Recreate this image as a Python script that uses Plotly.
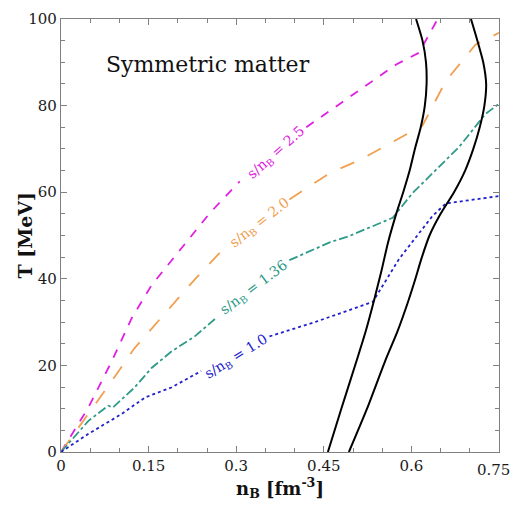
import plotly.graph_objects as go

# ---- data ----
# phase-boundary curves (solid black)
T_left = [0, 10, 21, 28, 35, 42, 48.4, 55, 60, 65, 70, 75, 80, 85, 90, 95, 100]
nB_left = [0.457, 0.480, 0.506, 0.522, 0.536, 0.549, 0.560, 0.574, 0.586, 0.597, 0.606, 0.616, 0.623, 0.626, 0.625, 0.619, 0.608]
T_right = [0, 10, 21, 27.8, 35, 39.2, 45, 50, 55, 60, 65, 70, 75, 80, 85, 90, 95, 100]
nB_right = [0.493, 0.524, 0.555, 0.576, 0.595, 0.605, 0.618, 0.631, 0.650, 0.673, 0.692, 0.706, 0.717, 0.725, 0.728, 0.723, 0.713, 0.702]

# isentropes (None marks the gap where the label sits on the curve)
nB_s25 = [0, 0.047, 0.087, 0.121, 0.155, 0.209, 0.255, 0.306, None, 0.420, 0.494, 0.574, 0.613, 0.645]
T_s25 = [0, 10.3, 21, 30.9, 38.5, 47.6, 55.2, 62.5, None, 75, 81.9, 89.5, 92.2, 100]

nB_s20 = [0, 0.047, 0.087, 0.126, 0.161, 0.230, 0.283, None, 0.391, 0.460, 0.511, 0.619, 0.659, 0.710, 0.750]
T_s20 = [0, 8.8, 16.4, 24, 29.3, 40, 47.6, None, 58.3, 64.4, 67.4, 75.4, 85.7, 94.1, 96.8]

nB_s136 = [0, 0.047, 0.081, 0.089, 0.126, 0.155, 0.189, 0.229, 0.266, None, 0.391, 0.460, 0.494, 0.568, 0.602, 0.682, 0.727, 0.750]
T_s136 = [0, 7.2, 10.7, 10.3, 14.9, 19.4, 23.2, 26.7, 31.0, None, 44.3, 48.4, 49.9, 54.1, 59.8, 70.5, 78.1, 80.4]

nB_s10 = [0, 0.047, 0.104, 0.144, 0.189, 0.240, None, 0.357, 0.437, 0.534, 0.579, 0.636, 0.659, 0.750]
T_s10 = [0, 4.2, 8.8, 12.6, 14.9, 18.7, None, 26.7, 30.1, 34.7, 44.6, 54.5, 57.4, 59.1]

labels = ["s/n<sub>B</sub> = 2.5", "s/n<sub>B</sub> = 2.0", "s/n<sub>B</sub> = 1.36", "s/n<sub>B</sub> = 1.0"]
label_x = [0.3685, 0.340, 0.330, 0.300]
label_T = [69.0, 53.0, 37.9, 21.9]
label_angle = [-42, -38, -37, -32]

x_ticks = [0, 0.15, 0.3, 0.45, 0.6, 0.75]
x_ticktext = ["0", "0.15", "0.3", "0.45", "0.6", ""]
last_x_label = "0.75"   # drawn right-aligned at the axis end, as in the reference
y_ticks = [0, 20, 40, 60, 80, 100]

colors = ["#e020e0", "#f0a050", "#2e9a88", "#2020cc"]
dashes = ["dash", "longdash", "dashdot", "dot"]

FONT = "DejaVu Serif"

fig = go.Figure()
for xs, ys, c, d in zip([nB_s25, nB_s20, nB_s136, nB_s10],
                        [T_s25, T_s20, T_s136, T_s10], colors, dashes):
    fig.add_trace(go.Scatter(x=xs, y=ys, mode="lines", connectgaps=False,
                             line=dict(color=c, width=1.8, dash=d), showlegend=False))

for xs, ys in [(nB_left, T_left), (nB_right, T_right)]:
    fig.add_trace(go.Scatter(x=xs, y=ys, mode="lines",
                             line=dict(color="black", width=2, shape="spline", smoothing=0.6),
                             showlegend=False))

for txt, lx, ly, ang, c in zip(labels, label_x, label_T, label_angle, colors):
    fig.add_annotation(x=lx, y=ly, text=txt, textangle=ang, showarrow=False,
                       font=dict(family=FONT, size=14, color=c))

fig.add_annotation(x=0.251, y=89.4, text="Symmetric matter", showarrow=False,
                   font=dict(family=FONT, size=22, color="#111"))

fig.add_annotation(x=x_ticks[-1], y=0, yref="y", xanchor="right", yanchor="top",
                   xshift=13, yshift=-7, text=last_x_label, showarrow=False,
                   font=dict(family=FONT, size=15, color="#1a1a1a"))

# y-axis title placed explicitly to sit close to the tick labels, as in the reference
fig.add_annotation(xref="paper", yref="paper", x=0, y=0.5, xshift=-37, xanchor="center",
                   yanchor="middle", text="<b>T [MeV]</b>", textangle=-90, showarrow=False,
                   font=dict(family=FONT, size=19, color="#111"))

axis_common = dict(showline=True, mirror="ticks", linecolor="#808080", linewidth=1.2,
                   ticks="inside", ticklen=6, tickcolor="#808080", showgrid=False,
                   zeroline=False, tickfont=dict(family=FONT, size=15, color="#1a1a1a"))

fig.update_xaxes(range=[0, 0.75], tickvals=x_ticks, ticktext=x_ticktext,
                 minor=dict(ticks="inside", ticklen=4, dtick=0.05, tick0=0, tickcolor="#808080"),
                 title=dict(text="<b>n<sub>B</sub> [fm<sup>-3</sup>]</b>", standoff=6,
                            font=dict(family=FONT, size=18, color="#111")),
                 **axis_common)
fig.update_yaxes(range=[0, 100], tickvals=y_ticks,
                 minor=dict(ticks="inside", ticklen=4, dtick=5, tick0=0, tickcolor="#808080"),
                 **axis_common)

fig.update_layout(width=510, height=507, margin=dict(l=61, r=10, t=14, b=55),
                  plot_bgcolor="white", paper_bgcolor="white")

fig.write_html("out.html")
